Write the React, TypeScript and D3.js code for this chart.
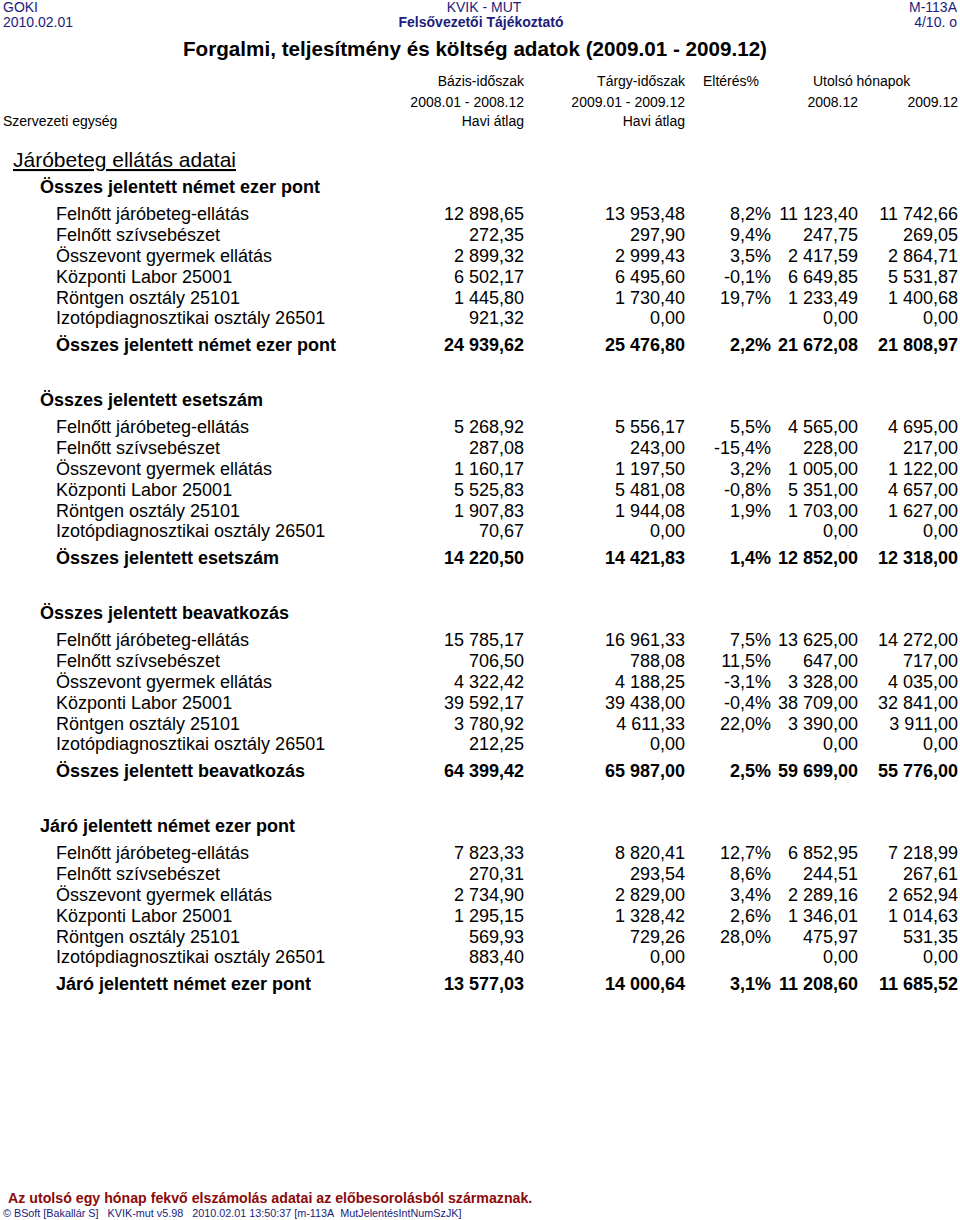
import React from "react";
import * as d3 from "d3";

const rowLabels = [
  "Felnőtt járóbeteg-ellátás",
  "Felnőtt szívsebészet",
  "Összevont gyermek ellátás",
  "Központi Labor 25001",
  "Röntgen osztály 25101",
  "Izotópdiagnosztikai osztály 26501",
];

const groupTitles = [
  "Összes jelentett német ezer pont",
  "Összes jelentett esetszám",
  "Összes jelentett beavatkozás",
  "Járó jelentett német ezer pont",
];

// [bázis, tárgy, eltérés%, 2008.12, 2009.12]
const pontRows = [
  [12898.65, 13953.48, 8.2, 11123.4, 11742.66],
  [272.35, 297.9, 9.4, 247.75, 269.05],
  [2899.32, 2999.43, 3.5, 2417.59, 2864.71],
  [6502.17, 6495.6, -0.1, 6649.85, 5531.87],
  [1445.8, 1730.4, 19.7, 1233.49, 1400.68],
  [921.32, 0, null, 0, 0],
];
const pontTotal = [24939.62, 25476.8, 2.2, 21672.08, 21808.97];

const esetRows = [
  [5268.92, 5556.17, 5.5, 4565.0, 4695.0],
  [287.08, 243.0, -15.4, 228.0, 217.0],
  [1160.17, 1197.5, 3.2, 1005.0, 1122.0],
  [5525.83, 5481.08, -0.8, 5351.0, 4657.0],
  [1907.83, 1944.08, 1.9, 1703.0, 1627.0],
  [70.67, 0, null, 0, 0],
];
const esetTotal = [14220.5, 14421.83, 1.4, 12852.0, 12318.0];

const beavRows = [
  [15785.17, 16961.33, 7.5, 13625.0, 14272.0],
  [706.5, 788.08, 11.5, 647.0, 717.0],
  [4322.42, 4188.25, -3.1, 3328.0, 4035.0],
  [39592.17, 39438.0, -0.4, 38709.0, 32841.0],
  [3780.92, 4611.33, 22.0, 3390.0, 3911.0],
  [212.25, 0, null, 0, 0],
];
const beavTotal = [64399.42, 65987.0, 2.5, 59699.0, 55776.0];

const jaroRows = [
  [7823.33, 8820.41, 12.7, 6852.95, 7218.99],
  [270.31, 293.54, 8.6, 244.51, 267.61],
  [2734.9, 2829.0, 3.4, 2289.16, 2652.94],
  [1295.15, 1328.42, 2.6, 1346.01, 1014.63],
  [569.93, 729.26, 28.0, 475.97, 531.35],
  [883.4, 0, null, 0, 0],
];
const jaroTotal = [13577.03, 14000.64, 3.1, 11208.6, 11685.52];

const groupRows = [pontRows, esetRows, beavRows, jaroRows];
const groupTotals = [pontTotal, esetTotal, beavTotal, jaroTotal];

const columns = ["base", "target", "diff", "last08", "last09"];

const hu = d3.formatLocale({
  decimal: ",",
  thousands: " ",
  grouping: [3],
  currency: ["", " Ft"],
  minus: "-",
});
const fmtNum = hu.format(",.2f");
const fmtPct = (v: number) => hu.format(".1f")(v) + "%";

const FONT = "'Liberation Sans', Arial, sans-serif";
const NAVY = "#1c1c7a";

export default function App() {
  const width = 960;
  const height = 1220;

  // right edges of the value columns
  const colX = d3
    .scaleOrdinal<string, number>()
    .domain(columns)
    .range([524, 685, 771, 858, 958]);

  // each group block starts 213px below the previous one
  const groupY = d3.scaleLinear().domain([0, 1]).range([187, 400]);
  // rows inside a group
  const rowY = d3.scaleLinear().domain([0, 1]).range([27, 47.8]);

  const cell = (v: number | null, i: number) =>
    v === null ? "" : i === 2 ? fmtPct(v) : fmtNum(v);

  return (
    <svg
      width={width}
      height={height}
      style={{ position: "absolute", left: 0, top: 0, background: "#fff" }}
      fontFamily={FONT}
    >
      {/* page header */}
      <g fill={NAVY} fontSize={14}>
        <text x={3} y={12}>GOKI</text>
        <text x={3} y={27}>2010.02.01</text>
        <text x={484} y={12} textAnchor="middle">KVIK - MUT</text>
        <text x={481} y={27} textAnchor="middle" fontWeight="bold">
          Felsővezetői Tájékoztató
        </text>
        <text x={957} y={12} textAnchor="end">M-113A</text>
        <text x={957} y={27} textAnchor="end">4/10. o</text>
      </g>

      <text
        x={183}
        y={56}
        fontSize={21}
        fontWeight="bold"
        textLength={584}
        lengthAdjust="spacingAndGlyphs"
      >
        Forgalmi, teljesítmény és költség adatok (2009.01 - 2009.12)
      </text>

      {/* column headers */}
      <g fontSize={14} fill="#000">
        <text x={colX("base")} y={86} textAnchor="end">Bázis-időszak</text>
        <text x={colX("base")} y={107} textAnchor="end">2008.01 - 2008.12</text>
        <text x={colX("base")} y={126} textAnchor="end">Havi átlag</text>
        <text x={colX("target")} y={86} textAnchor="end">Tárgy-időszak</text>
        <text x={colX("target")} y={107} textAnchor="end">2009.01 - 2009.12</text>
        <text x={colX("target")} y={126} textAnchor="end">Havi átlag</text>
        <text x={703} y={86}>Eltérés%</text>
        <text x={813} y={86}>Utolsó hónapok</text>
        <text x={colX("last08")} y={107} textAnchor="end">2008.12</text>
        <text x={colX("last09")} y={107} textAnchor="end">2009.12</text>
        <text x={3} y={126}>Szervezeti egység</text>
      </g>

      <text x={13} y={167} fontSize={21} textDecoration="underline">
        Járóbeteg ellátás adatai
      </text>

      {groupTitles.map((title, g) => {
        const y0 = groupY(g);
        const rows = groupRows[g];
        const total = groupTotals[g];
        return (
          <g key={title} fontSize={18}>
            <text x={40} y={y0} dy="0.35em" fontWeight="bold">
              {title}
            </text>
            {rows.map((r, i) => (
              <g key={i}>
                <text x={56} y={y0 + rowY(i)} dy="0.35em">
                  {rowLabels[i]}
                </text>
                {r.map((v, j) => (
                  <text
                    key={j}
                    x={colX(columns[j])}
                    y={y0 + rowY(i)}
                    dy="0.35em"
                    textAnchor="end"
                  >
                    {cell(v, j)}
                  </text>
                ))}
              </g>
            ))}
            <g fontWeight="bold">
              <text x={56} y={y0 + 158} dy="0.35em">
                {title}
              </text>
              {total.map((v, j) => (
                <text
                  key={j}
                  x={colX(columns[j])}
                  y={y0 + 158}
                  dy="0.35em"
                  textAnchor="end"
                >
                  {cell(v, j)}
                </text>
              ))}
            </g>
          </g>
        );
      })}

      {/* footer */}
      <text x={8} y={1203} fontSize={14.2} fontWeight="bold" fill="#8b0a0a">
        Az utolsó egy hónap fekvő elszámolás adatai az előbesorolásból származnak.
      </text>
      <text x={3} y={1217} fontSize={10.8} fill={NAVY}>
        © BSoft [Bakallár S]{"\u00a0\u00a0\u00a0"}KVIK-mut v5.98{"\u00a0\u00a0\u00a0"}2010.02.01 13:50:37 [m-113A{"\u00a0\u00a0"}MutJelentésIntNumSzJK]
      </text>
    </svg>
  );
}
